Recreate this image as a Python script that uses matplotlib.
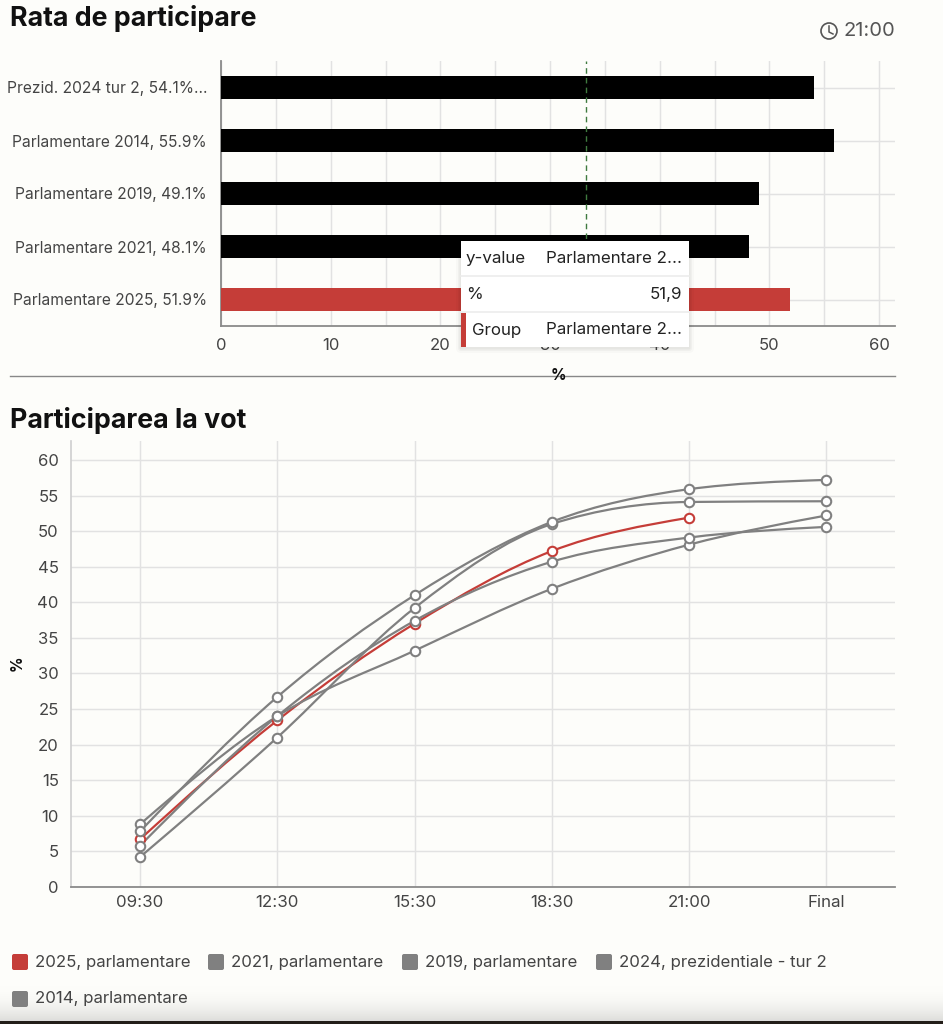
import numpy as np
import matplotlib
matplotlib.use('Agg')
import matplotlib.pyplot as plt
from matplotlib.patches import Rectangle, Circle, PathPatch, FancyBboxPatch
from matplotlib.path import Path

W = 943
H = 1024
BG = '#fdfdfa'
GRID = '#e2e2e2'
GREY = '#808080'
RED = '#c53d38'
TXT = '#444444'

plt.rcParams['font.family'] = ['Inter', 'DejaVu Sans']

# bars
bar_labels = ['Parlamentare 2025, 51.9%', 'Parlamentare 2021, 48.1%', 'Parlamentare 2019, 49.1%',
              'Parlamentare 2014, 55.9%', 'Prezid. 2024 tur 2, 54.1%...']
bar_values = [51.9, 48.1, 49.1, 55.9, 54.1]
bar_colors = [RED, 'black', 'black', 'black', 'black']
rule_value = 33.3

# lines
hours = ['09:30', '12:30', '15:30', '18:30', '21:00', 'Final']
turnout_2025 = [6.7, 23.4, 37.0, 47.2, 51.9]
turnout_2021 = [8.8, 24.0, 33.2, 41.9, 48.1, 52.2]
turnout_2019 = [5.8, 24.0, 37.4, 45.7, 49.1, 50.6]
turnout_2024 = [4.2, 21.0, 39.2, 51.0, 54.1, 54.2]
turnout_2014 = [7.8, 26.7, 41.0, 51.3, 55.9, 57.2]

legend_labels = ['2025, parlamentare', '2021, parlamentare', '2019, parlamentare',
                 '2024, prezidentiale - tur 2', '2014, parlamentare']
legend_colors = [RED, GREY, GREY, GREY, GREY]
legend_x = [12, 208, 402, 596, 12]
legend_y = [962, 962, 962, 962, 999]


def axes_px(fig, left, top, right, bottom, **kw):
    return fig.add_axes([left / W, 1 - bottom / H, (right - left) / W, (bottom - top) / H], **kw)


def monotone_path(x, y):
    """bezier path through the points, same shape as d3 curveMonotoneX"""
    x = np.asarray(x, dtype=float)
    y = np.asarray(y, dtype=float)
    h = np.diff(x)
    s = np.diff(y) / h
    m = np.zeros(len(x))
    for i in range(1, len(x) - 1):
        if s[i - 1] * s[i] > 0:
            p = (s[i - 1] * h[i] + s[i] * h[i - 1]) / (h[i - 1] + h[i])
            m[i] = (np.sign(s[i - 1]) + np.sign(s[i])) * min(abs(s[i - 1]), abs(s[i]), 0.5 * abs(p))
    m[0] = (3 * s[0] - m[1]) / 2
    m[-1] = (3 * s[-1] - m[-2]) / 2
    verts = [(x[0], y[0])]
    codes = [Path.MOVETO]
    for i in range(len(x) - 1):
        d = h[i] / 3
        verts += [(x[i] + d, y[i] + m[i] * d), (x[i + 1] - d, y[i + 1] - m[i + 1] * d), (x[i + 1], y[i + 1])]
        codes += [Path.CURVE4] * 3
    return Path(verts, codes)


fig = plt.figure(figsize=(W / 100, H / 100), dpi=100, facecolor=BG)

# page background, screenshot fades out at the bottom
bg = fig.add_axes([0, 0, 1, 1], zorder=0)
bg.set_axis_off()
shade = np.ones((H, 1, 3)) * np.array([253, 253, 250]) / 255
fade = np.clip((np.arange(H) - 985) / 36.0, 0, 1)[:, None, None] ** 2
shade = shade * (1 - fade * 0.13)
shade[1021:] = np.array([35, 30, 25]) / 255
bg.imshow(shade, aspect='auto', extent=(0, W, H, 0), interpolation='nearest')

# top chart
ax = axes_px(fig, 221, 61, 895, 326, zorder=1, facecolor='none')
ypos = np.arange(len(bar_values))
ax.barh(ypos, bar_values, height=23 / 53, color=bar_colors, zorder=3)
ax.axvline(rule_value, color='#3f7a3f', linestyle=(0, (4, 3)), linewidth=1, zorder=4)
ax.set_xlim(0, 674 / 10.967)
ax.set_ylim(-0.5, 4.5)
ax.set_yticks(ypos)
ax.set_yticklabels(bar_labels, fontsize=11.2, color=TXT)
ax.set_xticks(np.arange(0, 61, 10))
ax.set_xticks(np.arange(5, 61, 10), minor=True)
ax.tick_params(axis='x', which='both', length=0, pad=9, labelsize=12, labelcolor=TXT)
ax.tick_params(axis='y', length=0, pad=10)
ax.grid(True, which='both', color=GRID, linewidth=1.05, zorder=0)
ax.set_axisbelow(True)
ax.spines['top'].set_visible(False)
ax.spines['right'].set_visible(False)
for side in ['left', 'bottom']:
    ax.spines[side].set_color('#8a8a8a')
    ax.spines[side].set_linewidth(1.3)

# bottom chart
ax2 = axes_px(fig, 71.3, 441, 895, 887, zorder=1, facecolor='none')
xpos = np.arange(len(hours))
series = [(turnout_2025, RED), (turnout_2021, GREY), (turnout_2019, GREY), (turnout_2024, GREY), (turnout_2014, GREY)]
for values, color in series:
    xs = xpos[:len(values)]
    ax2.add_patch(PathPatch(monotone_path(xs, values), facecolor='none', edgecolor=color, linewidth=1.6, zorder=3))
    ax2.plot(xs, values, linestyle='none', marker='o', markersize=6.8, markerfacecolor='white',
             markeredgecolor=color, markeredgewidth=1.5, zorder=4)
ax2.set_xlim(-0.5, 5.5)
ax2.set_ylim(0, 446 / 7.117)
ax2.set_xticks(xpos)
ax2.set_xticklabels(hours, color=TXT, fontsize=12.2)
ax2.set_yticks(np.arange(0, 61, 5))
ax2.tick_params(axis='x', length=0, pad=6)
ax2.tick_params(axis='y', length=0, pad=9, labelsize=12, labelcolor=TXT)
ax2.grid(True, color=GRID, linewidth=1.05, zorder=0)
ax2.set_axisbelow(True)
ax2.spines['top'].set_visible(False)
ax2.spines['right'].set_visible(False)
ax2.spines['left'].set_color('#cfcfcf')
ax2.spines['left'].set_linewidth(1.2)
ax2.spines['bottom'].set_color('#8a8a8a')
ax2.spines['bottom'].set_linewidth(1.3)

# everything else is placed in pixels
px = fig.add_axes([0, 0, 1, 1], zorder=5, facecolor='none')
px.set_xlim(0, W)
px.set_ylim(H, 0)
px.set_axis_off()

px.text(10, 19, 'Rata de participare', fontsize=19.3, fontweight='bold', color='#111111', va='center')
px.text(10, 420, 'Participarea la vot', fontsize=19.3, fontweight='bold', color='#111111', va='center')
px.text(895, 31, '21:00', fontsize=14.5, color='#555555', va='center', ha='right')
px.add_patch(Circle((829, 31), 8, facecolor='none', edgecolor='#555555', linewidth=1.2))
px.plot([829, 829, 833], [26, 32, 34], color='#555555', linewidth=1.1)

px.plot([10, 895], [376, 376], color='#888888', linewidth=1.0)
px.text(558, 375, '%', fontsize=11, fontweight='bold', color='#111111', ha='center', va='center')
px.text(17, 663, '%', fontsize=11, fontweight='bold', color='#111111', ha='center', va='center', rotation=90)

# tooltip
for grow, alpha in [(5, 0.02), (3, 0.03), (1.5, 0.04)]:
    px.add_patch(FancyBboxPatch((461 - grow, 241 - grow + 1), 228 + 2 * grow, 106 + 2 * grow,
                                boxstyle='round,pad=0,rounding_size=%g' % grow, facecolor='black',
                                edgecolor='none', alpha=alpha))
px.add_patch(Rectangle((461, 241), 228, 106, facecolor='white', edgecolor='none'))
px.add_patch(Rectangle((461, 313), 5, 34, facecolor=RED, edgecolor='none'))
px.plot([461, 689], [276, 276], color='#ececec', linewidth=1.2)
px.plot([461, 689], [312, 312], color='#ececec', linewidth=1.2)
px.text(466, 258.5, 'y-value', fontsize=12.2, color='#222222', va='center')
px.text(546, 258.5, 'Parlamentare 2...', fontsize=12.2, color='#222222', va='center')
px.text(466, 294.5, '%', fontsize=12.2, color='#222222', va='center')
px.text(682, 294.5, '51,9', fontsize=12.2, color='#222222', va='center', ha='right')
px.text(472, 330, 'Group', fontsize=12.2, color='#222222', va='center')
px.text(546, 330, 'Parlamentare 2...', fontsize=12.2, color='#222222', va='center')

# legend
for label, color, lx, ly in zip(legend_labels, legend_colors, legend_x, legend_y):
    px.add_patch(FancyBboxPatch((lx, ly - 8), 16, 16, boxstyle='round,pad=0,rounding_size=2',
                                facecolor=color, edgecolor='none'))
    px.text(lx + 23, ly, label, fontsize=12.1, color=TXT, va='center')

fig.savefig('out.png', dpi=100, facecolor=BG)
